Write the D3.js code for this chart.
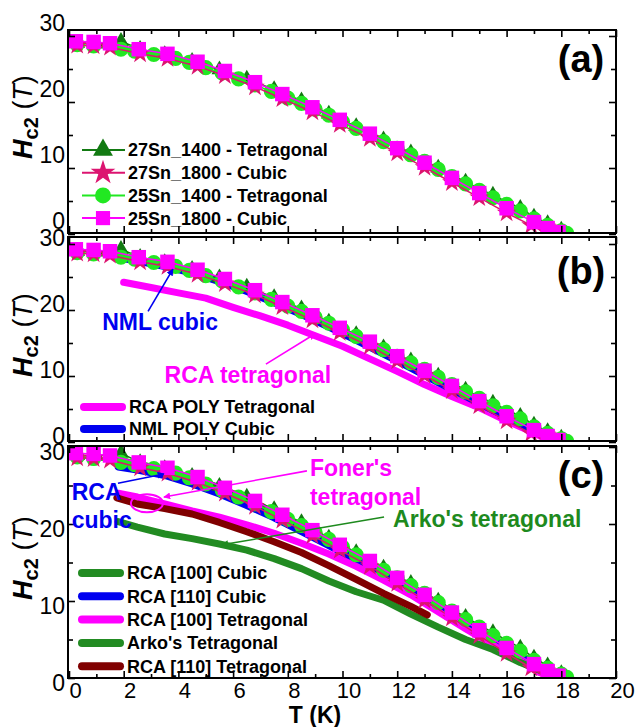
<!DOCTYPE html>
<html>
<head>
<meta charset="utf-8">
<script src="https://cdn.jsdelivr.net/npm/d3@7"></script>
<style>
  body { margin: 0; background: #fff; }
  svg text { font-family: "Liberation Sans", Arial, sans-serif; }
</style>
</head>
<body>
<svg></svg>
<script>
const width = 637;
const height = 727;

// measured data (T in K, Hc2 in T)
const tri27_1400_T = [0.3, 1.0, 1.9, 2.6, 3.5, 4.5, 5.5, 6.5, 7.5, 8.5, 9.5, 10.5, 11.5, 12.5, 13.5, 14.5, 15.5, 16.5, 17.0, 17.5, 18.0];
const tri27_1400_H = [28.9, 28.8, 29.2, 28.0, 27.2, 26.2, 24.9, 23.5, 21.9, 20.2, 18.2, 16.3, 14.3, 12.3, 10.0, 7.9, 5.9, 3.9, 2.6, 1.6, 0.6];

const star27_1800_T = [0.3, 0.9, 1.5, 2.6, 3.6, 4.7, 5.7, 6.8, 7.8, 8.9, 9.9, 11.0, 12.0, 13.0, 14.0, 15.0, 16.0, 16.9, 17.4, 17.8];
const star27_1800_H = [28.6, 28.5, 28.3, 27.3, 26.6, 25.4, 24.0, 22.3, 20.5, 18.5, 16.6, 14.5, 12.3, 10.1, 7.8, 5.5, 3.2, 1.3, 0.5, 0.1];

const circ25_1400_T = [0.3, 0.9, 1.9, 2.4, 3.1, 3.9, 4.4, 5.0, 5.6, 6.2, 6.8, 7.4, 8.0, 8.5, 9.0, 9.5, 10.0, 10.5, 11.0, 11.5, 12.0, 12.5, 13.0, 13.5, 14.0, 14.5, 15.0, 15.5, 16.0, 16.5, 17.0, 17.5, 18.0, 18.2];
const circ25_1400_H = [28.7, 28.5, 28.0, 27.7, 27.2, 26.6, 26.0, 25.2, 24.4, 23.5, 22.6, 21.6, 20.6, 19.8, 18.9, 18.0, 17.0, 16.0, 15.0, 14.0, 13.0, 12.0, 11.0, 9.8, 8.7, 7.6, 6.6, 5.5, 4.5, 3.5, 2.3, 1.3, 0.5, 0.1];

const sq25_1800_T = [0.25, 0.9, 1.5, 2.55, 3.6, 4.7, 5.7, 6.8, 7.8, 8.9, 9.9, 11.0, 12.0, 13.0, 14.0, 15.0, 16.0, 17.0, 17.5, 17.9];
const sq25_1800_H = [29.2, 29.1, 28.9, 28.0, 27.3, 26.1, 24.7, 23.0, 21.2, 19.2, 17.3, 15.2, 13.0, 10.8, 8.5, 6.2, 3.9, 1.8, 0.9, 0.3];

// panel (b) calculations
const nmlPolyCubic_T = [1.8, 2.5, 3.5, 4.5, 5.5, 6.5, 7.5, 8.5, 9.5, 10.5, 11.5, 12.5, 13.5, 14.5, 15.5, 16.5, 17.3];
const nmlPolyCubic_H = [27.9, 27.4, 26.6, 25.6, 24.3, 22.8, 21.1, 19.3, 17.4, 15.4, 13.3, 11.2, 9.0, 6.9, 4.8, 2.8, 1.0];
const rcaPolyTet_T = [2.0, 3.0, 4.0, 5.0, 6.0, 7.0, 8.0, 9.0, 10.0, 11.0, 12.0, 13.0, 14.0, 15.0, 16.0, 17.0, 17.4];
const rcaPolyTet_H = [24.2, 23.4, 22.6, 21.8, 20.4, 19.1, 17.7, 16.1, 14.5, 12.6, 10.7, 8.7, 6.9, 5.2, 3.2, 1.4, 0.5];

// panel (c) calculations
const rca100Cubic_T = [1.8, 2.5, 3.5, 4.5, 5.5, 6.5, 7.5, 8.5, 9.5, 10.5, 11.5, 12.5, 13.5, 14.5, 15.5, 16.5, 17.4];
const rca100Cubic_H = [28.3, 27.8, 27.0, 26.0, 24.7, 23.2, 21.5, 19.7, 17.8, 15.8, 13.7, 11.6, 9.4, 7.3, 5.2, 3.1, 1.0];
const rca110Cubic_T = [1.8, 2.5, 3.5, 4.5, 5.5, 6.5, 7.5, 8.5, 9.5, 10.5, 11.5, 12.5, 13.5, 14.5, 15.5, 16.5, 17.2];
const rca110Cubic_H = [27.4, 27.0, 26.3, 25.2, 23.9, 22.4, 20.8, 19.0, 17.2, 15.3, 13.3, 11.3, 9.2, 7.1, 5.0, 2.9, 1.2];
const rca100Tet_T = [1.8, 2.5, 3.5, 4.5, 5.5, 6.5, 7.5, 8.5, 9.5, 10.5, 11.5, 12.5, 13.5, 14.5, 15.5, 16.5, 17.2];
const rca100Tet_H = [24.0, 23.5, 22.6, 21.7, 20.9, 19.9, 18.8, 17.5, 16.1, 14.5, 12.7, 10.8, 8.6, 6.4, 4.3, 2.2, 0.7];
const arkoTet_T = [1.8, 2.5, 3.5, 4.5, 5.5, 6.5, 7.5, 8.5, 9.5, 10.5, 11.5, 12.5, 13.5, 14.5, 15.5, 16.5, 17.5];
const arkoTet_H = [20.3, 19.6, 18.7, 18.1, 17.4, 16.6, 15.5, 14.2, 12.6, 11.2, 10.1, 8.3, 6.6, 5.0, 3.7, 2.0, 0.6];
const rca110Tet_T = [1.75, 2.5, 3.5, 4.5, 5.5, 6.5, 7.5, 8.5, 9.5, 10.5, 11.5, 12.5, 13.1];
const rca110Tet_H = [23.4, 22.6, 22.0, 21.3, 20.2, 19.0, 17.7, 16.3, 14.6, 12.8, 11.0, 9.3, 8.2];

const xTicks = [0, 2, 4, 6, 8, 10, 12, 14, 16, 18, 20];
const yTicks = [0, 10, 20, 30];

const zip = (ts, hs) => ts.map((t, i) => ({ t: t, h: hs[i] }));

const markerSeries = [
    { name: "27Sn_1400 - Tetragonal", data: zip(tri27_1400_T, tri27_1400_H), sym: d3.symbolTriangle, size: 110, legSize: 170, color: "#127a12" },
    { name: "27Sn_1800 - Cubic", data: zip(star27_1800_T, star27_1800_H), sym: d3.symbolStar, size: 120, legSize: 190, color: "#dc1470" },
    { name: "25Sn_1400 - Tetragonal", data: zip(circ25_1400_T, circ25_1400_H), sym: d3.symbolCircle, size: 180, legSize: 200, color: "#22e822" },
    { name: "25Sn_1800 - Cubic", data: zip(sq25_1800_T, sq25_1800_H), sym: d3.symbolSquare, size: 210, legSize: 200, color: "#ff00ff" }
];
// draw order: triangles, circles, stars, squares
const drawOrder = [0, 2, 1, 3];

const panels = [
    { key: "a", tag: "(a)", top: 30, bottom: 233, yr: [234, 36], labelDy: -14, titleY: 117, tagY: 72,
      lines: [], legendX: 82, legendY: 150, legendStep: 22.7 },
    { key: "b", tag: "(b)", top: 237, bottom: 441, yr: [442, 244], labelDy: -7, titleY: 335, tagY: 284,
      lines: [
          { name: "RCA POLY Tetragonal", data: zip(rcaPolyTet_T, rcaPolyTet_H), color: "#ff00ff" },
          { name: "NML POLY Cubic", data: zip(nmlPolyCubic_T, nmlPolyCubic_H), color: "#0000f0" }
      ],
      legendX: 80, legendY: 407, legendStep: 22 },
    { key: "c", tag: "(c)", top: 446, bottom: 678, yr: [678, 447], labelDy: 4, titleY: 558, tagY: 488,
      lines: [
          { name: "RCA [100] Cubic", data: zip(rca100Cubic_T, rca100Cubic_H), color: "#228b22" },
          { name: "RCA [110] Cubic", data: zip(rca110Cubic_T, rca110Cubic_H), color: "#0000f0" },
          { name: "RCA [100] Tetragonal", data: zip(rca100Tet_T, rca100Tet_H), color: "#ff00ff" },
          { name: "Arko's Tetragonal", data: zip(arkoTet_T, arkoTet_H), color: "#228b22" },
          { name: "RCA [110] Tetragonal", data: zip(rca110Tet_T, rca110Tet_H), color: "#800000" }
      ],
      legendX: 78, legendY: 573, legendStep: 23.3 }
];

// annotations, in data units of their panel
const notes = [
    { panel: "b", color: "#0000f0", texts: [{ s: "NML cubic", t: 3.33, h: 18.2, anchor: "middle" }], arrow: [2.89, 19.8, 3.8, 26.2] },
    { panel: "b", color: "#ff00ff", texts: [{ s: "RCA tetragonal", t: 6.54, h: 10.2, anchor: "middle" }], arrow: [7.2, 11.8, 9.0, 16.4] },
    { panel: "c", color: "#0000f0", texts: [{ s: "RCA", t: 0.1, h: 24.2, anchor: "start" }, { s: "cubic", t: 0.1, h: 20.5, anchor: "start" }], arrow: [1.79, 25.3, 3.47, 26.5] },
    { panel: "c", color: "#ff00ff", texts: [{ s: "Foner's", t: 8.81, h: 27.3, anchor: "start" }, { s: "tetragonal", t: 8.81, h: 23.5, anchor: "start" }], arrow: [8.7, 26.9, 3.47, 23.5], ellipse: [2.85, 22.7] },
    { panel: "c", color: "#1e8a1e", texts: [{ s: "Arko's tetragonal", t: 11.85, h: 20.6, anchor: "start" }], arrow: [11.52, 20.9, 5.59, 17.3] }
];

const svg = d3.select("svg")
    .attr("width", width)
    .attr("height", height);

const defs = svg.append("defs");
["#0000f0", "#ff00ff", "#1e8a1e"].forEach((c, i) => {
    defs.append("marker")
        .attr("id", "arr" + i)
        .attr("viewBox", "0 0 10 10")
        .attr("refX", 9).attr("refY", 5)
        .attr("markerWidth", 7).attr("markerHeight", 7)
        .attr("markerUnits", "userSpaceOnUse")
        .attr("orient", "auto")
        .append("path")
        .attr("d", "M0,0L10,5L0,10z")
        .attr("fill", c);
});
const arrowId = { "#0000f0": "arr0", "#ff00ff": "arr1", "#1e8a1e": "arr2" };

const x = d3.scaleLinear().domain([0, 20]).range([69, 616]);

panels.forEach(p => {
    const y = d3.scaleLinear().domain([0, 30]).range(p.yr);
    const g = svg.append("g").attr("class", "panel-" + p.key);

    const clipId = "clip-" + p.key;
    defs.append("clipPath").attr("id", clipId)
        .append("rect")
        .attr("x", x(0) - 1).attr("y", p.top)
        .attr("width", x(20) - x(0) + 1).attr("height", p.bottom - p.top);

    const plot = g.append("g").attr("clip-path", `url(#${clipId})`);

    // thick calculated curves
    const line = d3.line().x(d => x(d.t)).y(d => y(d.h));
    p.lines.forEach(l => {
        plot.append("path")
            .datum(l.data)
            .attr("d", line)
            .attr("fill", "none")
            .attr("stroke", l.color)
            .attr("stroke-width", 7)
            .attr("stroke-linecap", "round")
            .attr("stroke-linejoin", "round");
    });

    // measured series
    drawOrder.forEach(i => {
        const s = markerSeries[i];
        plot.append("path")
            .datum(s.data)
            .attr("d", line)
            .attr("fill", "none")
            .attr("stroke", s.color)
            .attr("stroke-width", 1.5);
        plot.selectAll(null)
            .data(s.data)
            .enter().append("path")
            .attr("transform", d => `translate(${x(d.t)},${y(d.h)})`)
            .attr("d", d3.symbol().type(s.sym).size(s.size))
            .attr("fill", s.color);
    });

    // frame
    g.append("rect")
        .attr("x", x(0) - 1).attr("y", p.top)
        .attr("width", x(20) - x(0) + 1).attr("height", p.bottom - p.top)
        .attr("fill", "none")
        .attr("stroke", "#000")
        .attr("stroke-width", 2);

    // ticks, pointing inwards on all four sides
    const axes = [
        [d3.axisBottom(x).tickValues(d3.range(1, 20, 2)).tickSize(-4), `translate(0,${p.bottom})`],
        [d3.axisBottom(x).tickValues(xTicks).tickSize(-7), `translate(0,${p.bottom})`],
        [d3.axisTop(x).tickValues(d3.range(1, 20, 2)).tickSize(-4), `translate(0,${p.top})`],
        [d3.axisTop(x).tickValues(xTicks).tickSize(-7), `translate(0,${p.top})`],
        [d3.axisLeft(y).tickValues([5, 15, 25]).tickSize(-5), `translate(${x(0) - 1},0)`],
        [d3.axisLeft(y).tickValues(yTicks).tickSize(-7), `translate(${x(0) - 1},0)`],
        [d3.axisRight(y).tickValues([5, 15, 25]).tickSize(-5), `translate(${x(20)},0)`],
        [d3.axisRight(y).tickValues(yTicks).tickSize(-7), `translate(${x(20)},0)`]
    ];
    axes.forEach(([ax, tr]) => {
        const a = g.append("g").attr("transform", tr).call(ax.tickFormat("").tickSizeOuter(0));
        a.select(".domain").remove();
        a.selectAll("line").attr("stroke", "#000").attr("stroke-width", 1.6);
    });

    // y tick labels (shifted like in the original figure)
    const yl = g.append("g")
        .attr("transform", `translate(${x(0) - 4},0)`)
        .call(d3.axisLeft(y).tickValues(yTicks).tickSize(0).tickPadding(0));
    yl.select(".domain").remove();
    yl.selectAll("text")
        .attr("font-family", "Liberation Sans, Arial, sans-serif")
        .attr("font-size", 23)
        .attr("fill", "#000")
        .attr("y", p.labelDy)
        .attr("dy", "0.36em");

    // y title
    const title = g.append("text")
        .attr("transform", `translate(32,${p.titleY}) rotate(-90)`)
        .attr("text-anchor", "middle")
        .attr("font-size", 27);
    title.append("tspan").attr("font-weight", "bold").attr("font-style", "italic").text("H");
    title.append("tspan").attr("font-weight", "bold").attr("font-size", 20).attr("dy", 6).text("c2");
    title.append("tspan").attr("dy", -6).text(" (");
    title.append("tspan").attr("font-style", "italic").text("T");
    title.append("tspan").text(")");

    // panel tag
    g.append("text")
        .attr("x", 581).attr("y", p.tagY)
        .attr("text-anchor", "middle")
        .attr("font-size", 38)
        .attr("font-weight", "bold")
        .text(p.tag);

    // legend
    const leg = g.append("g");
    if (p.key === "a") {
        markerSeries.forEach((s, i) => {
            const ly = p.legendY + i * p.legendStep;
            leg.append("line")
                .attr("x1", p.legendX).attr("x2", p.legendX + 43)
                .attr("y1", ly).attr("y2", ly)
                .attr("stroke", s.color).attr("stroke-width", 2);
            leg.append("path")
                .attr("transform", `translate(${p.legendX + 21},${ly})`)
                .attr("d", d3.symbol().type(s.sym).size(s.legSize))
                .attr("fill", s.color);
            leg.append("text")
                .attr("x", p.legendX + 46).attr("y", ly)
                .attr("dy", "0.36em")
                .attr("font-size", 18).attr("font-weight", "bold")
                .text(s.name);
        });
    } else {
        p.lines.forEach((l, i) => {
            const ly = p.legendY + i * p.legendStep;
            leg.append("line")
                .attr("x1", p.legendX + 4).attr("x2", p.legendX + 42)
                .attr("y1", ly).attr("y2", ly)
                .attr("stroke", l.color).attr("stroke-width", 8)
                .attr("stroke-linecap", "round");
            leg.append("text")
                .attr("x", p.legendX + 49).attr("y", ly)
                .attr("dy", "0.36em")
                .attr("font-size", 18).attr("font-weight", "bold")
                .text(l.name);
        });
    }

    // annotations
    notes.filter(n => n.panel === p.key).forEach(n => {
        const [t0, h0, t1, h1] = n.arrow;
        g.append("line")
            .attr("x1", x(t0)).attr("y1", y(h0))
            .attr("x2", x(t1)).attr("y2", y(h1))
            .attr("stroke", n.color).attr("stroke-width", 1.6)
            .attr("marker-end", `url(#${arrowId[n.color]})`);
        if (n.ellipse) {
            g.append("ellipse")
                .attr("cx", x(n.ellipse[0])).attr("cy", y(n.ellipse[1]))
                .attr("rx", 16).attr("ry", 9)
                .attr("fill", "none")
                .attr("stroke", n.color).attr("stroke-width", 2);
        }
        n.texts.forEach(tx => {
            g.append("text")
                .attr("x", x(tx.t)).attr("y", y(tx.h))
                .attr("dy", "0.35em")
                .attr("text-anchor", tx.anchor)
                .attr("font-size", 23).attr("font-weight", "bold")
                .attr("fill", n.color)
                .text(tx.s);
        });
    });

    // x tick labels only on the bottom panel
    if (p.key === "c") {
        const xl = g.append("g")
            .attr("transform", `translate(6,${p.bottom + 4})`)
            .call(d3.axisBottom(x).tickValues(xTicks).tickSize(0).tickPadding(0));
        xl.select(".domain").remove();
        xl.selectAll("text")
            .attr("font-family", "Liberation Sans, Arial, sans-serif")
            .attr("font-size", 22)
            .attr("fill", "#000");

        g.append("text")
            .attr("x", 315).attr("y", 723)
            .attr("text-anchor", "middle")
            .attr("font-size", 23).attr("font-weight", "bold")
            .text("T (K)");
    }
});
</script>
</body>
</html>
